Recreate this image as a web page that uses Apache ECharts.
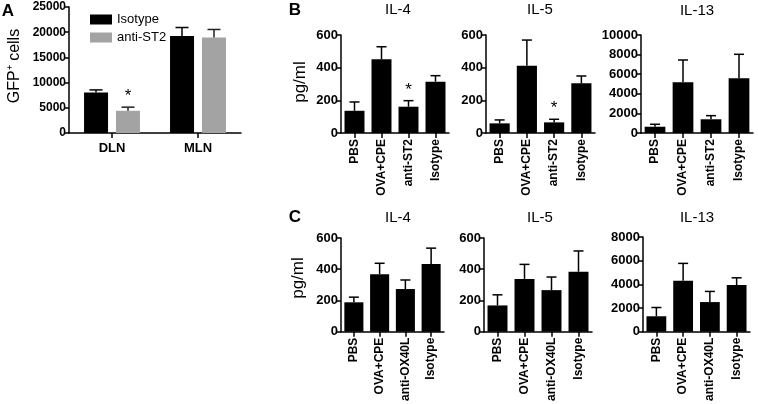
<!DOCTYPE html>
<html><head><meta charset="utf-8">
<script src="https://cdn.jsdelivr.net/npm/echarts@6/dist/echarts.min.js"></script>
<style>html,body{margin:0;padding:0;background:#fff}#c{width:758px;height:404px}</style>
</head><body><div id="c"></div>
<script>
// ---- Data ----
const catsA = ['DLN', 'MLN'];
const aIsotype = [8020, 19270];
const aIsotypeErr = [8550, 20930];
const aAnti = [4400, 18960];
const aAntiErr = [5130, 20540];
const aAntiSig = [1, 0];
const aIsoSig = [0, 0];

const catsB = ['PBS', 'OVA+CPE', 'anti-ST2', 'Isotype'];
const bIL4 = [136, 451, 161, 314];
const bIL4Err = [190, 528, 198, 351];
const bIL4Sig = [0, 0, 1, 0];
const bIL5 = [59, 412, 65, 304];
const bIL5Err = [80, 569, 84, 349];
const bIL5Sig = [0, 0, 1, 0];
const bIL13 = [640, 5170, 1400, 5580];
const bIL13Err = [890, 7450, 1770, 8030];
const bIL13Sig = [0, 0, 0, 0];

const catsC = ['PBS', 'OVA+CPE', 'anti-OX40L', 'Isotype'];
const cIL4 = [188, 368, 273, 433];
const cIL4Err = [221, 438, 331, 535];
const cIL5 = [168, 338, 266, 384];
const cIL5Err = [236, 431, 350, 517];
const cIL13 = [1300, 4300, 2500, 3940];
const cIL13Err = [2040, 5770, 3400, 4550];
const noSig = [0, 0, 0, 0];

// ---- Layout ----
const FONT = 'Liberation Sans, Arial, Helvetica, sans-serif';
const grids = [
  {left: 69, top: 7, width: 172, height: 126},
  {left: 341, top: 35, width: 108, height: 98},
  {left: 486, top: 35, width: 109, height: 98},
  {left: 641, top: 35, width: 112, height: 98},
  {left: 341, top: 238, width: 103, height: 98},
  {left: 484, top: 238, width: 108, height: 98},
  {left: 643, top: 237, width: 107, height: 98}
];
const axisLine = {show: true, lineStyle: {color: '#000', width: 1.5}};
const axisTick = {show: true, length: 5, lineStyle: {color: '#000', width: 1.5}};

function xAx(gi, cats, rotate) {
  return {
    type: 'category', gridIndex: gi, data: cats,
    axisLine: axisLine,
    axisTick: Object.assign({alignWithLabel: true}, axisTick),
    axisLabel: rotate ? {rotate: 90, margin: 6, color: '#000', fontWeight: 'bold', fontSize: 12, fontFamily: FONT, interval: 0}
                      : {margin: 9, color: '#000', fontWeight: 'bold', fontSize: 13, fontFamily: FONT, interval: 0}
  };
}
function yAx(gi, max, interval, fs) {
  return {
    type: 'value', gridIndex: gi, min: 0, max: max, interval: interval,
    axisLine: axisLine, axisTick: axisTick, splitLine: {show: false},
    axisLabel: {margin: 3, color: '#000', fontWeight: 'bold', fontSize: fs, fontFamily: FONT,
      formatter: v => String(v)}
  };
}

function errSeries(gi, means, errs, sig, offset, cap, color) {
  return {
    type: 'custom', xAxisIndex: gi, yAxisIndex: gi, z: 5, clip: false,
    encode: {x: 0, y: 1},
    data: means.map((m, i) => [i, m, errs[i], sig[i]]),
    renderItem: function (params, api) {
      const i = api.value(0);
      const base = api.coord([i, api.value(1)]);
      const top = api.coord([i, api.value(2)]);
      const x = base[0] + offset;
      const st = {stroke: color, lineWidth: 1.5};
      const ch = [
        {type: 'line', shape: {x1: x, y1: base[1], x2: x, y2: top[1]}, style: st},
        {type: 'line', shape: {x1: x - cap, y1: top[1], x2: x + cap, y2: top[1]}, style: st}
      ];
      if (api.value(3)) {
        ch.push({type: 'text', style: {text: '*', x: x, y: top[1] - 2, align: 'center', verticalAlign: 'bottom',
          font: '17px ' + FONT, fill: '#000'}});
      }
      return {type: 'group', children: ch};
    }
  };
}
function barSeries(gi, name, vals, color, extra) {
  return Object.assign({type: 'bar', name: name, xAxisIndex: gi, yAxisIndex: gi, data: vals,
    itemStyle: {color: color}, barCategoryGap: '26%'}, extra || {});
}

const panels = [
  {gi: 1, cats: catsB, v: bIL4, e: bIL4Err, s: bIL4Sig, max: 600, iv: 200},
  {gi: 2, cats: catsB, v: bIL5, e: bIL5Err, s: bIL5Sig, max: 600, iv: 200},
  {gi: 3, cats: catsB, v: bIL13, e: bIL13Err, s: bIL13Sig, max: 10000, iv: 2000},
  {gi: 4, cats: catsC, v: cIL4, e: cIL4Err, s: noSig, max: 600, iv: 200},
  {gi: 5, cats: catsC, v: cIL5, e: cIL5Err, s: noSig, max: 600, iv: 200},
  {gi: 6, cats: catsC, v: cIL13, e: cIL13Err, s: noSig, max: 8000, iv: 2000}
];

const xAxes = [xAx(0, catsA, false)];
const yAxes = [yAx(0, 25000, 5000, 12)];
const series = [
  barSeries(0, 'Isotype', aIsotype, '#000', {barWidth: 24, barGap: '33%'}),
  barSeries(0, 'anti-ST2', aAnti, '#a3a3a3', {barWidth: 24, barGap: '33%'}),
  errSeries(0, aIsotype, aIsotypeErr, aIsoSig, -16, 6.5, '#000'),
  errSeries(0, aAnti, aAntiErr, aAntiSig, 16, 6.5, '#222')
];
panels.forEach(p => {
  xAxes.push(xAx(p.gi, p.cats, true));
  yAxes.push(yAx(p.gi, p.max, p.iv, 13));
  series.push(barSeries(p.gi, 'panel' + p.gi, p.v, '#000'));
  series.push(errSeries(p.gi, p.v, p.e, p.s, 0, 5, '#000'));
});

function txt(t, x, y, size, bold, rot) {
  return {type: 'text', x: x, y: y, rotation: rot ? Math.PI / 2 : 0,
    style: {text: t, fill: '#000', font: (bold ? 'bold ' : '') + size + 'px ' + FONT, align: 'center', verticalAlign: 'middle'}};
}
const graphics = [
  txt('A', 8, 11, 17, true), txt('B', 295, 10, 17, true), txt('C', 295, 217, 17, true),
  txt('IL-4', 398, 10, 15), txt('IL-5', 540, 10, 15), txt('IL-13', 697, 11, 15),
  txt('IL-4', 398, 218, 15), txt('IL-5', 540, 218, 15), txt('IL-13', 697, 218, 15),
  txt('pg/ml', 300, 82, 17, false, true), txt('pg/ml', 298, 278, 17, false, true),
  txt('GFP\u207A cells', 15, 66, 16, false, true)
];

const chart = echarts.init(document.getElementById('c'), null, {renderer: 'canvas'});
chart.setOption({
  backgroundColor: '#fff',
  animation: false,
  grid: grids,
  xAxis: xAxes,
  yAxis: yAxes,
  legend: {data: ['Isotype', 'anti-ST2'], orient: 'vertical', left: 85, top: 8, itemWidth: 22, itemHeight: 10, itemGap: 5,
    icon: 'rect', textStyle: {fontSize: 13, fontFamily: FONT, color: '#000'}, selectedMode: false},
  series: series,
  graphic: graphics
});
</script></body></html>
